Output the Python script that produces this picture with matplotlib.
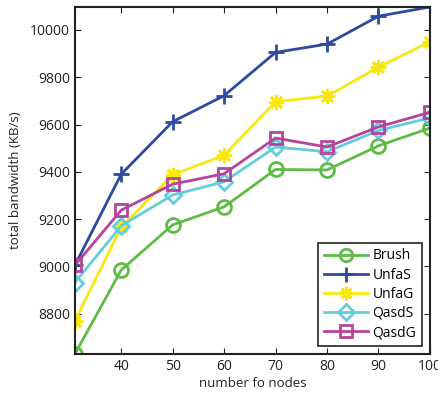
import matplotlib
matplotlib.use('Agg')
import matplotlib.pyplot as plt

nodes = [31, 40, 50, 60, 70, 80, 90, 100]
brush = [8630, 8985, 9176, 9252, 9410, 9408, 9510, 9585]
unfas = [9005, 9390, 9612, 9722, 9905, 9940, 10058, 10097]
unfag = [8770, 9165, 9388, 9470, 9697, 9720, 9842, 9950]
qasds = [8932, 9172, 9302, 9358, 9505, 9485, 9575, 9628]
qasdg = [9005, 9238, 9348, 9392, 9543, 9505, 9590, 9652]

plt.rcParams['font.family'] = ['Open Sans', 'DejaVu Sans']

fig = plt.figure(figsize=(4.38, 3.99), dpi=100)
ax = fig.add_axes([0.171, 0.1128, 0.8105, 0.8697])

ax.plot(nodes, brush, color='#5dbb46', marker='o', ms=10, mfc='none', mew=2, lw=2, label='Brush')
ax.plot(nodes, unfas, color='#2e4a9e', marker='+', ms=12, mew=2, lw=2, label='UnfaS')
ax.plot(nodes, unfag, color='#f7e910', marker=(8, 2, 0), ms=11, mew=2, lw=2, label='UnfaG')
ax.plot(nodes, qasds, color='#66ccdd', marker='D', ms=8.5, mfc='none', mew=2, lw=2, label='QasdS')
ax.plot(nodes, qasdg, color='#b5449b', marker='s', ms=9, mfc='none', mew=2, lw=2, label='QasdG')

ax.set_xlim(31, 100)
ax.set_ylim(8630, 10097)
ax.set_xticks([40, 50, 60, 70, 80, 90, 100])
ax.set_yticks([8800, 9000, 9200, 9400, 9600, 9800, 10000])
ax.tick_params(direction='in', top=True, right=True, labelsize=10, length=4, colors='#222222')
for s in ax.spines.values():
    s.set_linewidth(1.5)
    s.set_color('#222222')

ax.set_xlabel('number fo nodes', fontsize=9.5, color='#222222', labelpad=2)
ax.set_ylabel('total bandwidth (KB/s)', fontsize=9.5, color='#222222', labelpad=6)

leg = ax.legend(loc='lower right', fontsize=10, fancybox=False, framealpha=1,
                edgecolor='#222222', handlelength=3.2, borderpad=0.4, labelspacing=0.3,
                handletextpad=0.3, markerscale=0.9, borderaxespad=0.6)
leg.get_frame().set_linewidth(1.2)

fig.savefig('out.png', dpi=100)
